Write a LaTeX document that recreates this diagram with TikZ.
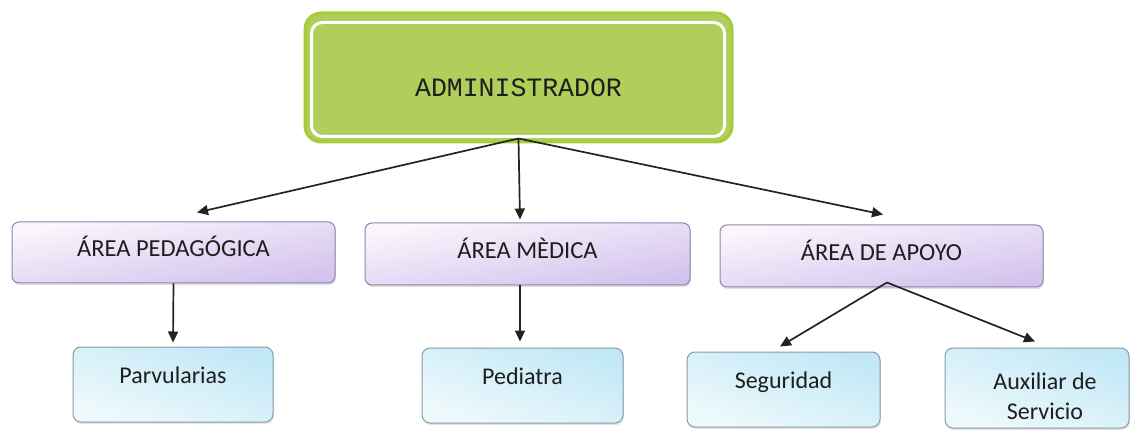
\documentclass[tikz,border=0pt]{standalone}
\usepackage{fontspec}
\setmainfont{Carlito}
\newfontfamily\admfont{Liberation Mono}
\usetikzlibrary{arrows.meta,shadows}
\definecolor{admgreen}{RGB}{176,206,90}
\definecolor{admedge}{RGB}{166,204,58}
\definecolor{lavtop}{RGB}{252,246,252}
\definecolor{lavbot}{RGB}{210,194,238}
\definecolor{lavedge}{RGB}{146,132,170}
\definecolor{cyantop}{RGB}{194,232,246}
\definecolor{cyanbot}{RGB}{238,249,252}
\definecolor{cyanedge}{RGB}{136,154,170}
\definecolor{arrowgray}{RGB}{35,35,35}
\definecolor{txtgray}{RGB}{30,30,30}
\tikzset{
  admbox/.style={draw=admedge, line width=3pt, fill=admgreen, rounded corners=16pt,
    minimum width=427pt, minimum height=129pt, inner sep=0pt},
  areabox/.style={draw=lavedge, line width=1pt, rounded corners=7pt,
    top color=lavtop, bottom color=lavbot, shading angle=10,
    minimum width=323pt, minimum height=61pt, inner sep=0pt, text depth=12pt,
    font=\fontsize{24.5}{29}\selectfont, text=txtgray,
    drop shadow={shadow xshift=1pt, shadow yshift=-2pt, opacity=0.25}},
  leafbox/.style={draw=cyanedge, line width=1pt, rounded corners=8pt,
    top color=cyantop, bottom color=cyanbot, shading angle=-20,
    minimum width=200pt, minimum height=75pt, inner sep=0pt,
    text depth=18pt,
    font=\fontsize{24}{30}\selectfont, text=txtgray,
    drop shadow={shadow xshift=1pt, shadow yshift=-2pt, opacity=0.2}},
  leaftext/.style={align=center, inner sep=0pt, font=\fontsize{24}{30}\selectfont, text=txtgray},
  conn/.style={draw=arrowgray, line width=1.7pt,
    -{Triangle[length=11pt,width=10pt]}}
}
\begin{document}
\begin{tikzpicture}[x=1pt,y=1pt]
\useasboundingbox (0,0) rectangle (1131,431);
% top
\node[admbox] (admin) at (518.5,353.5) {};
\draw[white, line width=3pt, rounded corners=11pt]
  ([shift={(8pt,-11pt)}]admin.north west) rectangle ([shift={(-9pt,7pt)}]admin.south east);
\node[font=\admfont\fontsize{26.5}{30}\selectfont, text=txtgray] (admtext)
  at ([yshift=-10pt]admin.center) {ADMINISTRADOR};
% level 2
\node[areabox] (ped) at (173.5,178.5) {ÁREA PEDAGÓGICA};
\node[areabox, minimum width=325pt, minimum height=62pt] (med) at (527.5,177) {ÁREA MÈDICA};
\node[areabox, minimum height=62pt] (apo) at (881.5,175) {ÁREA DE APOYO};
% level 3
\node[leafbox] (parv) at (173,46.5) {Parvularias};
\node[leafbox, minimum width=201pt] (pedi) at (522.5,45.5) {Pediatra};
\node[leafbox, minimum width=193pt] (seg) at (783.5,41.5) {Seguridad};
\node[leafbox, minimum width=184pt, minimum height=80pt] (aux) at (1037,43) {};
\node[leaftext] (auxtext) at ([shift={(8pt,-8pt)}]aux.center) {Auxiliar de\\Servicio};
% connector points
\coordinate (admOut) at ([yshift=5pt]admin.south);
\coordinate (pedIn) at ([shift={(23.5pt,9pt)}]ped.north);
\coordinate (medIn) at ([shift={(-7.5pt,3pt)}]med.north);
\coordinate (apoIn) at ([shift={(1.5pt,10pt)}]apo.north);
\coordinate (medOut) at ([xshift=-7.5pt]med.south);
\coordinate (apoOut) at ([shift={(5.5pt,5pt)}]apo.south);
\coordinate (parvIn) at ([yshift=4pt]parv.north);
\coordinate (pediIn) at ([shift={(-2.5pt,6pt)}]pedi.north);
\coordinate (segIn) at ([shift={(-3.5pt,5pt)}]seg.north);
\coordinate (auxIn) at ([shift={(-2pt,6pt)}]aux.north);
% connectors
\draw[conn] (admOut) -- (pedIn);
\draw[conn] (admOut) -- (medIn);
\draw[conn] (admOut) -- (apoIn);
\draw[conn] (ped.south) -- (parvIn);
\draw[conn] (medOut) -- (pediIn);
\draw[conn] (apoOut) -- (segIn);
\draw[conn] (apoOut) -- (auxIn);
\end{tikzpicture}
\end{document}
